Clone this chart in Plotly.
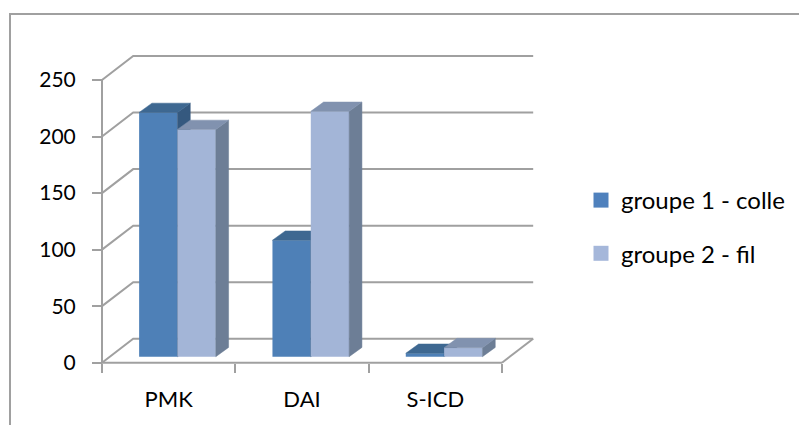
import plotly.graph_objects as go

# ---------------- data ----------------
categories = ["PMK", "DAI", "S-ICD"]
series_names = ["groupe 1 - colle", "groupe 2 - fil"]
g1_values = [216, 103, 3]
g2_values = [201, 217, 8]
y_tickvals = [0, 50, 100, 150, 200, 250]

# ---------------- style / geometry ----------------
FONT = "Lato"
GRID = "#A0A0A0"
FRONT = ["#4E80B7", "#A3B5D7"]
LEGEND_COLORS = ["#4F81BD", "#A5B7DA"]
TOP = ["#3E6891", "#8192AF"]
SIDE = ["#35597F", "#6D7E96"]

W, H = 807, 425
PAGE = 8  # default page margin around the plot div

def fx(px):
    return px - PAGE

def fy(py):
    return py - PAGE

PLOT_L, PLOT_R, PLOT_T, PLOT_B = fx(90), fx(545), fy(45), fy(380)
ORIGIN_PX = (fx(102), fy(362.7))                        # (category -0.5, value 0)
PX_PER_X = 133.33
PX_PER_Y = 1.1307

x_min = -0.5 - (ORIGIN_PX[0] - PLOT_L) / PX_PER_X
x_max = -0.5 + (PLOT_R - ORIGIN_PX[0]) / PX_PER_X
y_min = -(PLOT_B - ORIGIN_PX[1]) / PX_PER_Y
y_max = (ORIGIN_PX[1] - PLOT_T) / PX_PER_Y

WALL_DX, WALL_DY = 31.2 / PX_PER_X, 24.0 / PX_PER_Y
BAR_X0, BAR_Y0 = 8.8 / PX_PER_X, 6.0 / PX_PER_Y
BAR_DX, BAR_DY = 12.8 / PX_PER_X, 9.3 / PX_PER_Y
BW = 0.2875

n = len(categories)
idx = list(range(n))

fig = go.Figure()

# ---------------- walls / grid ----------------
shapes = []
line = dict(color=GRID, width=2)
x_front_l, x_front_r = -0.5, n - 0.5
for v in y_tickvals:
    shapes.append(dict(type="path", xref="x", yref="y", layer="below", line=line,
                       path=f"M{x_front_l},{v} L{x_front_l + WALL_DX},{v + WALL_DY} "
                            f"L{x_front_r + WALL_DX},{v + WALL_DY}"))
shapes.append(dict(type="line", xref="x", yref="y", layer="below", line=line,
                   x0=x_front_l, y0=0, x1=x_front_r, y1=0))
shapes.append(dict(type="line", xref="x", yref="y", layer="below", line=line,
                   x0=x_front_r, y0=0, x1=x_front_r + WALL_DX, y1=WALL_DY))
shapes.append(dict(type="line", xref="x", yref="y", layer="below", line=line,
                   x0=x_front_l, y0=0, x1=x_front_l, y1=y_tickvals[-1]))

def px_to_paper_x(px):
    return (px - PLOT_L) / (PLOT_R - PLOT_L)

def px_to_paper_y(py):
    return (PLOT_B - py) / (PLOT_B - PLOT_T)

shapes.append(dict(type="rect", xref="paper", yref="paper", layer="below",
                   x0=px_to_paper_x(fx(10)), x1=px_to_paper_x(W + 20),
                   y0=px_to_paper_y(H + 20), y1=px_to_paper_y(fy(14)),
                   line=dict(color=GRID, width=2)))

# ---------------- bars ----------------
series = [g1_values, g2_values]
for s, vals in enumerate(series):
    offset = BAR_X0 - BW if s == 0 else BAR_X0
    z = s + 1
    fig.add_trace(go.Bar(
        x=idx, y=vals, base=BAR_Y0, width=BW, offset=offset,
        marker=dict(color=FRONT[s], line=dict(width=0)),
        showlegend=False, legendgroup=f"g{s}", hoverinfo="skip", zorder=z,
    ))
    top_x, top_y, side_x, side_y = [], [], [], []
    for i, v in zip(idx, vals):
        xl = i + offset
        xr = xl + BW
        b = BAR_Y0
        t = BAR_Y0 + v
        top_x += [xl, xr, xr + BAR_DX, xl + BAR_DX, xl, None]
        top_y += [t, t, t + BAR_DY, t + BAR_DY, t, None]
        side_x += [xr, xr, xr + BAR_DX, xr + BAR_DX, xr, None]
        side_y += [b, t, t + BAR_DY, b + BAR_DY, b, None]
    fig.add_trace(go.Scatter(x=side_x, y=side_y, mode="lines", fill="toself",
                             fillcolor=SIDE[s], line=dict(color=SIDE[s], width=0.5),
                             showlegend=False, legendgroup=f"g{s}", hoverinfo="skip", zorder=z))
    fig.add_trace(go.Scatter(x=top_x, y=top_y, mode="lines", fill="toself",
                             fillcolor=TOP[s], line=dict(color=TOP[s], width=0.5),
                             showlegend=False, legendgroup=f"g{s}", hoverinfo="skip", zorder=z))
    fig.add_trace(go.Scatter(x=[None], y=[None], mode="markers", name=series_names[s],
                             marker=dict(symbol="square", size=15, color=LEGEND_COLORS[s]),
                             legendgroup=f"g{s}", showlegend=True))

fig.update_layout(
    width=W, height=H,
    margin=dict(l=PLOT_L, r=W - PLOT_R, t=PLOT_T, b=H - PLOT_B, pad=0),
    paper_bgcolor="white", plot_bgcolor="white",
    barmode="overlay",
    shapes=shapes,
    font=dict(family=FONT, size=21, color="black"),
    legend=dict(x=px_to_paper_x(fx(581)), xanchor="left",
                y=px_to_paper_y(fy(227)), yanchor="middle",
                font=dict(family=FONT, size=24, color="black"),
                tracegroupgap=19, bgcolor="rgba(0,0,0,0)", borderwidth=0),
    xaxis=dict(range=[x_min, x_max], tickmode="array", tickvals=idx, ticktext=categories,
               ticks="", showgrid=False, zeroline=False, showline=False,
               anchor="free", position=(0 - y_min) / (y_max - y_min),
               tickfont=dict(family=FONT, size=22, color="black"), ticklabelstandoff=21,
               minor=dict(tickmode="array", tickvals=[i - 0.5 for i in range(n + 1)],
                          ticks="outside", ticklen=9, tickwidth=2, tickcolor=GRID,
                          showgrid=False)),
    yaxis=dict(range=[y_min, y_max], tickmode="array", tickvals=y_tickvals,
               ticks="outside", ticklen=10, tickwidth=2, tickcolor=GRID,
               showgrid=False, zeroline=False, showline=False,
               anchor="free", position=(-0.5 - x_min) / (x_max - x_min),
               tickfont=dict(family=FONT, size=21, color="black"), ticklabelstandoff=12),
)

fig.write_html("out.html")
